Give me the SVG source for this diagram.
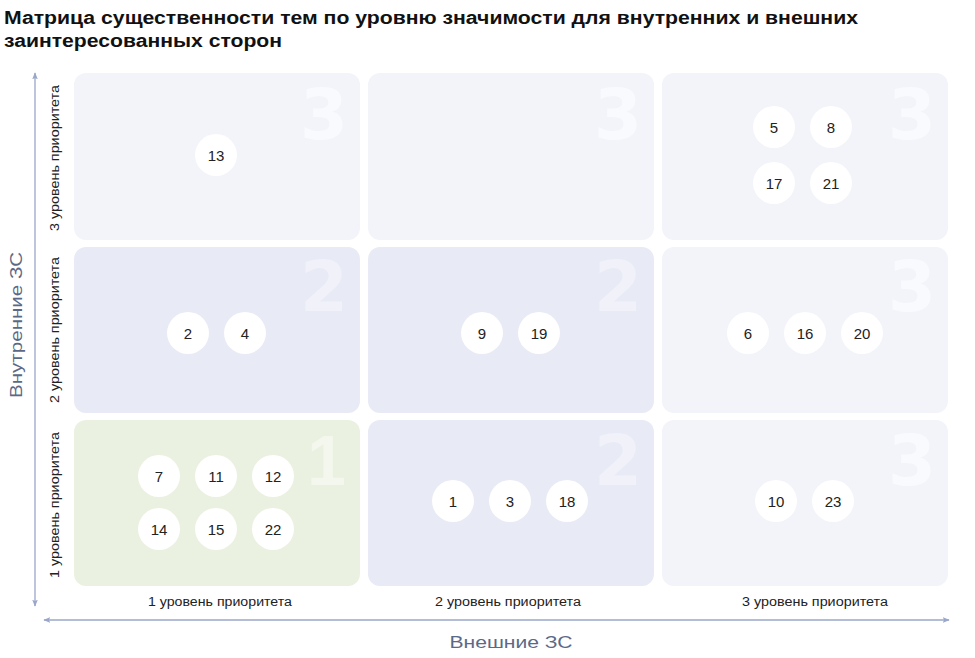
<svg xmlns="http://www.w3.org/2000/svg" width="975" height="658" viewBox="0 0 975 658">
<style>
.title{font-family:"Liberation Sans",Arial,sans-serif;font-weight:bold;font-size:17.5px;fill:#111}
.c1{fill:#f3f4f9}.c2{fill:#e8eaf5}.cg{fill:#ebf1e1}
.big{font-family:"DejaVu Sans",sans-serif;font-weight:bold;font-size:69px;text-anchor:end}
.one{font-family:"Liberation Sans",Arial,sans-serif;font-weight:bold;font-size:70px;text-anchor:end}
.b1{fill:#f9fafd}.b2{fill:#f0f1f9}.bg{fill:#f3f7ed}
.dot circle{fill:#fff}
.dot text{font-family:"Liberation Sans",Arial,sans-serif;font-size:15px;fill:#222;text-anchor:middle;dominant-baseline:central}
.lbl{font-family:"Liberation Sans",Arial,sans-serif;font-size:12.5px;fill:#222;text-anchor:middle}
.ax{font-family:"Liberation Sans",Arial,sans-serif;font-size:17px;fill:#5b6986;text-anchor:middle}
.axis{stroke:#9aa7c9;stroke-width:1.3;fill:none}
</style>
<defs>
<marker id="ah" viewBox="0 0 10 10" refX="9" refY="5" markerWidth="7" markerHeight="7" orient="auto-start-reverse" markerUnits="userSpaceOnUse">
<path d="M0,1 L10,5 L0,9 L2,5 Z" fill="#9aa7c9"/>
</marker>
</defs>
<rect width="975" height="658" fill="#fff"/>
<text class="title" x="4" y="24" textLength="854" lengthAdjust="spacingAndGlyphs">Матрица существенности тем по уровню значимости для внутренних и внешних</text>
<text class="title" x="4" y="47" textLength="278" lengthAdjust="spacingAndGlyphs">заинтересованных сторон</text>

<g id="connectors">
<line class="axis" x1="35" y1="606" x2="35" y2="73" marker-start="url(#ah)" marker-end="url(#ah)"/>
<line class="axis" x1="44" y1="620" x2="949" y2="620" marker-start="url(#ah)" marker-end="url(#ah)"/>
</g>

<g id="cell-r1c1"><rect class="c1" x="74" y="73" width="286" height="167" rx="12"/><text class="big b1" x="348" y="139">3</text>
<g class="dot"><circle cx="216" cy="155" r="21"/><text x="216" y="155">13</text></g></g>
<g id="cell-r1c2"><rect class="c1" x="368" y="73" width="286" height="167" rx="12"/><text class="big b1" x="642" y="139">3</text></g>
<g id="cell-r1c3"><rect class="c1" x="662" y="73" width="286" height="167" rx="12"/><text class="big b1" x="936" y="139">3</text>
<g class="dot"><circle cx="774" cy="127" r="21"/><text x="774" y="127">5</text></g>
<g class="dot"><circle cx="831" cy="127" r="21"/><text x="831" y="127">8</text></g>
<g class="dot"><circle cx="774" cy="183" r="21"/><text x="774" y="183">17</text></g>
<g class="dot"><circle cx="831" cy="183" r="21"/><text x="831" y="183">21</text></g></g>

<g id="cell-r2c1"><rect class="c2" x="74" y="247" width="286" height="166" rx="12"/><text class="big b2" x="348" y="311">2</text>
<g class="dot"><circle cx="188" cy="333" r="21"/><text x="188" y="333">2</text></g>
<g class="dot"><circle cx="245" cy="333" r="21"/><text x="245" y="333">4</text></g></g>
<g id="cell-r2c2"><rect class="c2" x="368" y="247" width="286" height="166" rx="12"/><text class="big b2" x="642" y="311">2</text>
<g class="dot"><circle cx="482" cy="333" r="21"/><text x="482" y="333">9</text></g>
<g class="dot"><circle cx="539" cy="333" r="21"/><text x="539" y="333">19</text></g></g>
<g id="cell-r2c3"><rect class="c1" x="662" y="247" width="286" height="166" rx="12"/><text class="big b1" x="936" y="311">3</text>
<g class="dot"><circle cx="748" cy="333" r="21"/><text x="748" y="333">6</text></g>
<g class="dot"><circle cx="805" cy="333" r="21"/><text x="805" y="333">16</text></g>
<g class="dot"><circle cx="862" cy="333" r="21"/><text x="862" y="333">20</text></g></g>

<g id="cell-r3c1"><rect class="cg" x="74" y="420" width="286" height="166" rx="12"/><text class="one bg" x="346" y="485">1</text>
<g class="dot"><circle cx="159" cy="476" r="21"/><text x="159" y="476">7</text></g>
<g class="dot"><circle cx="216" cy="476" r="21"/><text x="216" y="476">11</text></g>
<g class="dot"><circle cx="273" cy="476" r="21"/><text x="273" y="476">12</text></g>
<g class="dot"><circle cx="159" cy="529" r="21"/><text x="159" y="529">14</text></g>
<g class="dot"><circle cx="216" cy="529" r="21"/><text x="216" y="529">15</text></g>
<g class="dot"><circle cx="273" cy="529" r="21"/><text x="273" y="529">22</text></g></g>
<g id="cell-r3c2"><rect class="c2" x="368" y="420" width="286" height="166" rx="12"/><text class="big b2" x="642" y="485">2</text>
<g class="dot"><circle cx="453" cy="501" r="21"/><text x="453" y="501">1</text></g>
<g class="dot"><circle cx="510" cy="501" r="21"/><text x="510" y="501">3</text></g>
<g class="dot"><circle cx="567" cy="501" r="21"/><text x="567" y="501">18</text></g></g>
<g id="cell-r3c3"><rect class="c1" x="662" y="420" width="286" height="166" rx="12"/><text class="big b1" x="936" y="485">3</text>
<g class="dot"><circle cx="776" cy="501" r="21"/><text x="776" y="501">10</text></g>
<g class="dot"><circle cx="833" cy="501" r="21"/><text x="833" y="501">23</text></g></g>

<g id="labels">
<text class="lbl" transform="translate(59,158) rotate(-90)" textLength="146" lengthAdjust="spacingAndGlyphs">3 уровень приоритета</text>
<text class="lbl" transform="translate(59,330) rotate(-90)" textLength="146" lengthAdjust="spacingAndGlyphs">2 уровень приоритета</text>
<text class="lbl" transform="translate(59,505) rotate(-90)" textLength="146" lengthAdjust="spacingAndGlyphs">1 уровень приоритета</text>
<text class="lbl" x="220" y="606" textLength="144" lengthAdjust="spacingAndGlyphs">1 уровень приоритета</text>
<text class="lbl" x="508" y="606" textLength="146" lengthAdjust="spacingAndGlyphs">2 уровень приоритета</text>
<text class="lbl" x="815" y="606" textLength="146" lengthAdjust="spacingAndGlyphs">3 уровень приоритета</text>
<text class="ax" transform="translate(22,325) rotate(-90)" textLength="146" lengthAdjust="spacingAndGlyphs">Внутренние ЗС</text>
<text class="ax" x="511" y="648" textLength="123" lengthAdjust="spacingAndGlyphs">Внешние ЗС</text>
</g>
</svg>
